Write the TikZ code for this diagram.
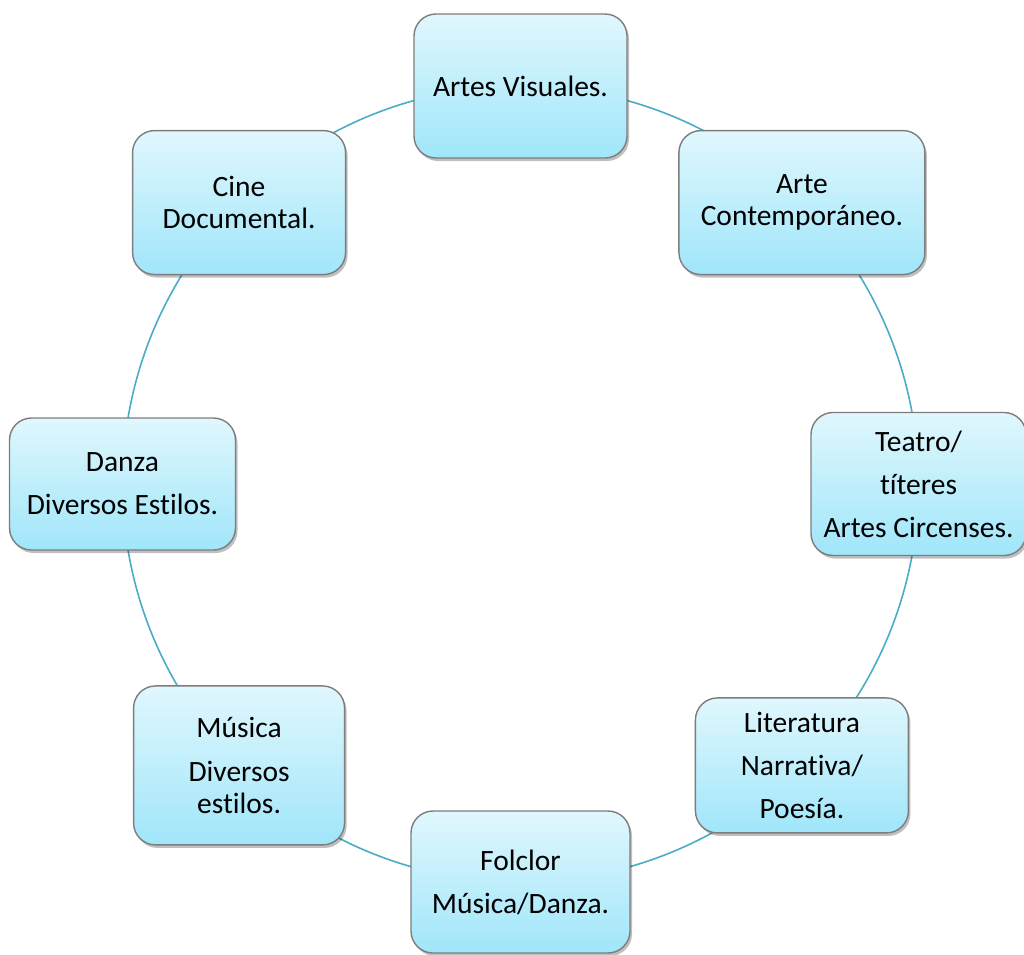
\documentclass[tikz,border=0pt]{standalone}
\usepackage{fontspec}
\setmainfont{Carlito}[Ligatures=NoCommon]
\usetikzlibrary{shadows,backgrounds,calc}
\definecolor{boxtop}{RGB}{224,247,253}
\definecolor{boxbot}{RGB}{160,230,250}
\definecolor{boxline}{RGB}{125,125,125}
\definecolor{connc}{RGB}{75,172,198}
\tikzset{
  artbox/.style={rectangle, rounded corners=22pt, draw=boxline, line width=1.4pt,
    top color=boxtop, bottom color=boxbot, align=center, inner sep=0pt,
    font=\fontsize{29.5}{32}\selectfont,
    drop shadow={shadow xshift=2pt, shadow yshift=-3pt, opacity=0.25, fill=black}},
  conn/.style={draw=connc, line width=1.6pt}
}
\begin{document}
\begin{tikzpicture}[x=1pt,y=-1pt]
\useasboundingbox (0,0) rectangle (1024,954);
\coordinate (c) at (520.5,484);
\node[artbox, minimum width=213pt, minimum height=144pt] (n1) at ($(c)+(-90:398)$) {Artes Visuales.};
\node[artbox, minimum width=246pt, minimum height=144pt] (n2) at ($(c)+(-45:398)$) {Arte\\Contemporáneo.};
\node[artbox, minimum width=215pt, minimum height=143pt] (n3) at ($(c)+(0:398)$) {Teatro/\\[11pt]títeres\\[11pt]Artes Circenses.};
\node[artbox, minimum width=213pt, minimum height=135pt] (n4) at ($(c)+(45:398)$) {Literatura\\[11pt]Narrativa/\\[11pt]Poesía.};
\node[artbox, minimum width=219pt, minimum height=142pt] (n5) at ($(c)+(90:398)$) {Folclor\\[11pt]Música/Danza.};
\node[artbox, minimum width=211pt, minimum height=159pt] (n6) at ($(c)+(135:398)$) {Música\\[12pt]Diversos\\estilos.};
\node[artbox, minimum width=226pt, minimum height=132pt] (n7) at ($(c)+(180:398)$) {Danza\\[11pt]Diversos Estilos.};
\node[artbox, minimum width=213pt, minimum height=144pt] (n8) at ($(c)+(225:398)$) {Cine\\Documental.};
\begin{scope}[on background layer]
\draw[conn] (n1.center) arc[start angle=-90, end angle=-45, radius=398];
\draw[conn] (n2.center) arc[start angle=-45, end angle=0, radius=398];
\draw[conn] (n3.center) arc[start angle=0, end angle=45, radius=398];
\draw[conn] (n4.center) arc[start angle=45, end angle=90, radius=398];
\draw[conn] (n5.center) arc[start angle=90, end angle=135, radius=398];
\draw[conn] (n6.center) arc[start angle=135, end angle=180, radius=398];
\draw[conn] (n7.center) arc[start angle=180, end angle=225, radius=398];
\draw[conn] (n8.center) arc[start angle=225, end angle=270, radius=398];
\end{scope}
\end{tikzpicture}
\end{document}
